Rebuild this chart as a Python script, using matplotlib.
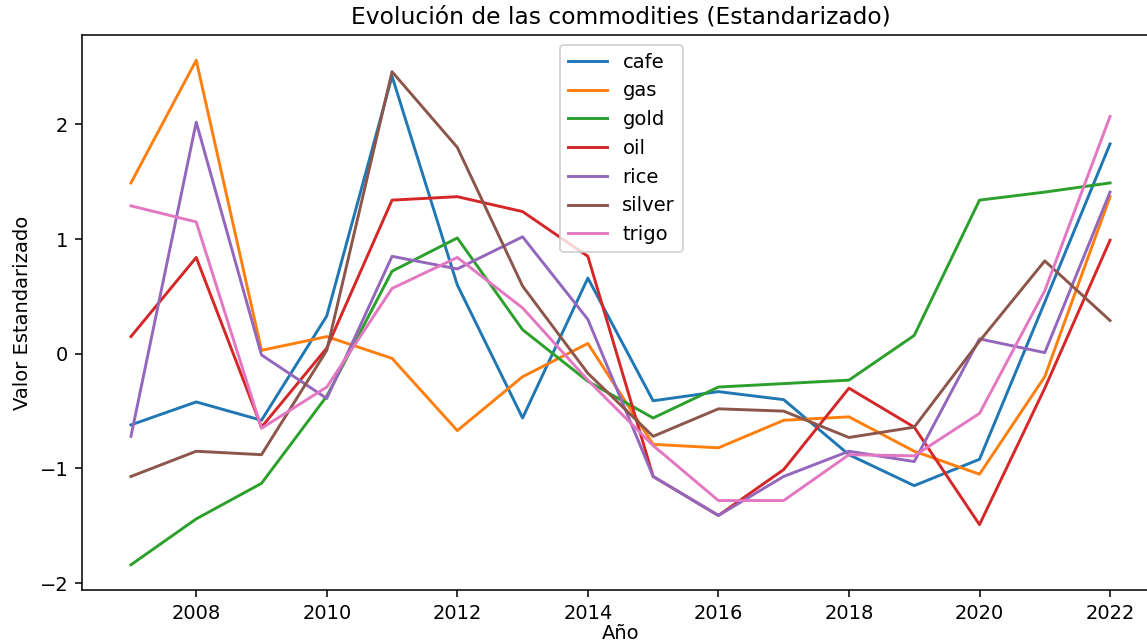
import matplotlib
matplotlib.use('Agg')
from matplotlib import pyplot as plt

years = list(range(2007, 2023))

cafe = [-0.62, -0.42, -0.58, 0.33, 2.42, 0.60, -0.56, 0.66, -0.41, -0.33, -0.40, -0.88, -1.15, -0.92, 0.45, 1.83]
gas = [1.49, 2.56, 0.03, 0.15, -0.04, -0.67, -0.20, 0.09, -0.79, -0.82, -0.58, -0.55, -0.85, -1.05, -0.20, 1.37]
gold = [-1.84, -1.44, -1.13, -0.37, 0.72, 1.01, 0.21, -0.24, -0.56, -0.29, -0.26, -0.23, 0.16, 1.34, 1.41, 1.49]
oil = [0.15, 0.84, -0.64, 0.05, 1.34, 1.37, 1.24, 0.85, -1.07, -1.41, -1.01, -0.30, -0.64, -1.49, -0.30, 0.99]
rice = [-0.72, 2.02, -0.01, -0.39, 0.85, 0.74, 1.02, 0.30, -1.07, -1.41, -1.07, -0.85, -0.94, 0.13, 0.01, 1.41]
silver = [-1.07, -0.85, -0.88, 0.03, 2.46, 1.80, 0.59, -0.17, -0.72, -0.48, -0.50, -0.73, -0.64, 0.11, 0.81, 0.29]
trigo = [1.29, 1.15, -0.65, -0.29, 0.57, 0.84, 0.40, -0.23, -0.80, -1.28, -1.28, -0.88, -0.89, -0.52, 0.55, 2.07]

names = ['cafe', 'gas', 'gold', 'oil', 'rice', 'silver', 'trigo']
series = [cafe, gas, gold, oil, rice, silver, trigo]

# the reference looks like a screenshot of a bigger-dpi figure, cropped on the right
dpi = 140
fig = plt.figure(figsize=(1147 / dpi, 641 / dpi), dpi=dpi)
ax = fig.add_axes([82 / 1147, 1 - 590 / 641, (1159 - 82) / 1147, (590 - 35) / 641])

for name, vals in zip(names, series):
    ax.plot(years, vals, label=name)

ax.set_title('Evolución de las commodities (Estandarizado)')
ax.set_xlabel('Año', labelpad=0.5)
ax.set_ylabel('Valor Estandarizado')
ax.legend(loc='upper left', bbox_to_anchor=(0.444, 0.982), borderaxespad=0)

plt.savefig('out.png', dpi=dpi)
